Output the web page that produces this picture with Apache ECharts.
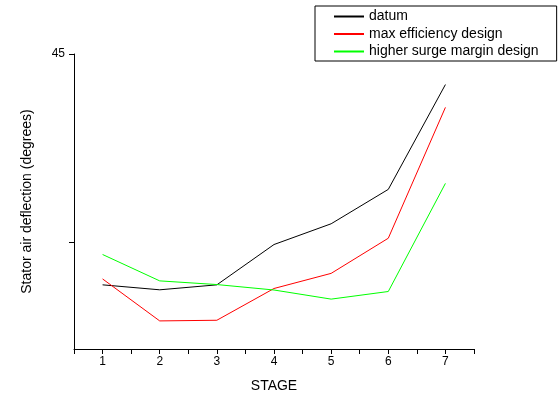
<!DOCTYPE html>
<html><head><meta charset="utf-8">
<script src="https://cdn.jsdelivr.net/npm/echarts@6/dist/echarts.min.js"></script>
<style>html,body{margin:0;padding:0;background:#fff}#c{width:559px;height:398px}</style>
</head><body><div id="c"></div>
<script>
const stages = [1, 2, 3, 4, 5, 6, 7];
const datum = [20.43, 19.9, 20.43, 24.72, 26.93, 30.59, 41.75];
const maxEfficiency = [21.06, 16.59, 16.66, 20.04, 21.65, 25.39, 39.32];
const higherSurge = [23.66, 20.85, 20.46, 19.88, 18.91, 19.72, 31.23];
const seriesNames = ['datum', 'max efficiency design', 'higher surge margin design'];
const yTickValues = [25, 45];
const yLabelValues = [45];

const font = 'Liberation Sans, Arial, sans-serif';
const chart = echarts.init(document.getElementById('c'), null, {renderer: 'canvas'});
function pts(arr) { return stages.map((s, i) => [s, arr[i]]); }
chart.setOption({
  animation: false,
  backgroundColor: '#fff',
  grid: {left: 74, right: 85, top: 54, bottom: 46},
  legend: {
    left: 315, top: 6, orient: 'vertical',
    borderColor: '#000', borderWidth: 1, padding: [3, 18, 2, 19],
    itemWidth: 30, itemHeight: 2, itemGap: 2.5, icon: 'rect',
    textStyle: {fontFamily: font, fontSize: 14, color: '#000', lineHeight: 15},
    data: seriesNames
  },
  xAxis: {
    type: 'value', min: 0.5, max: 7.5, interval: 0.5,
    name: 'STAGE', nameLocation: 'middle', nameGap: 30,
    nameTextStyle: {fontFamily: font, fontSize: 14, color: '#000'},
    axisLine: {lineStyle: {color: '#000', width: 1}},
    axisTick: {show: true, length: 5, lineStyle: {color: '#000'}},
    axisLabel: {fontFamily: font, fontSize: 12, color: '#000', margin: 7,
      formatter: v => Number.isInteger(v) ? String(v) : ''},
    splitLine: {show: false}
  },
  yAxis: {
    type: 'value', min: 13.6, max: 45,
    name: 'Stator air deflection (degrees)', nameLocation: 'middle', nameGap: 40,
    nameTextStyle: {fontFamily: font, fontSize: 14, color: '#000'},
    axisLine: {show: true, lineStyle: {color: '#000', width: 1}},
    axisTick: {show: true, length: 5, customValues: yTickValues, lineStyle: {color: '#000'}},
    axisLabel: {fontFamily: font, fontSize: 12, color: '#000', margin: 9, customValues: yLabelValues},
    splitLine: {show: false}
  },
  series: [
    {name: seriesNames[0], type: 'line', data: pts(datum), symbol: 'none', color: '#000', lineStyle: {width: 1, color: '#000'}},
    {name: seriesNames[1], type: 'line', data: pts(maxEfficiency), symbol: 'none', color: '#ff0000', lineStyle: {width: 1, color: '#ff0000'}},
    {name: seriesNames[2], type: 'line', data: pts(higherSurge), symbol: 'none', color: '#00ff00', lineStyle: {width: 1, color: '#00ff00'}}
  ]
});
</script></body></html>
